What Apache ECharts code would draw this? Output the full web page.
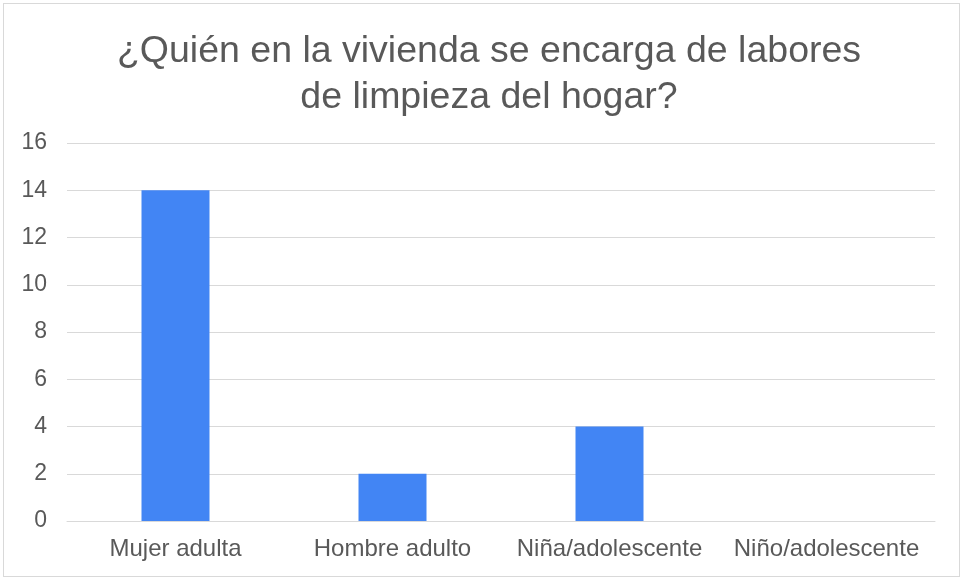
<!DOCTYPE html>
<html>
<head>
<meta charset="utf-8">
<script src="https://cdn.jsdelivr.net/npm/echarts@6/dist/echarts.min.js"></script>
<style>
  html, body { margin: 0; padding: 0; background: #fff; }
  #frame { position: absolute; left: 3px; top: 3px; width: 957px; height: 574px; border: 1px solid #d9d9d9; box-sizing: border-box; }
  #chart { position: absolute; left: 0; top: 0; width: 964px; height: 581px; }
</style>
</head>
<body>
<div id="frame"></div>
<div id="chart"></div>
<script>
const titleText = "¿Quién en la vivienda se encarga de labores\nde limpieza del hogar?";
const categories = ["Mujer adulta", "Hombre adulto", "Niña/adolescente", "Niño/adolescente"];
const values = [14, 2, 4, 0];

const myChart = echarts.init(document.getElementById("chart"));
const font = "Liberation Sans, Arial, sans-serif";
const option = {
    animation: false,
    title: {
        text: titleText,
        left: 484,
        textAlign: "center",
        top: 24,
        textStyle: {
            fontFamily: font,
            fontSize: 37.5,
            fontWeight: "normal",
            color: "#595959",
            lineHeight: 46
        }
    },
    grid: { left: 67, right: 29, top: 143, bottom: 60, containLabel: false },
    xAxis: {
        type: "category",
        data: categories,
        axisLine: { lineStyle: { color: "#d9d9d9", width: 1 } },
        axisTick: { show: false },
        axisLabel: { color: "#595959", fontSize: 24, fontFamily: font, margin: 16, interval: 0 }
    },
    yAxis: {
        type: "value",
        min: 0,
        max: 16,
        interval: 2,
        axisLine: { show: false },
        axisTick: { show: false },
        splitLine: { lineStyle: { color: "#d9d9d9", width: 1 } },
        axisLabel: { color: "#595959", fontSize: 23, fontFamily: font, margin: 20 }
    },
    series: [{
        type: "bar",
        data: values,
        barWidth: 68,
        itemStyle: { color: "#4285f4" }
    }]
};
myChart.setOption(option);
</script>
</body>
</html>
